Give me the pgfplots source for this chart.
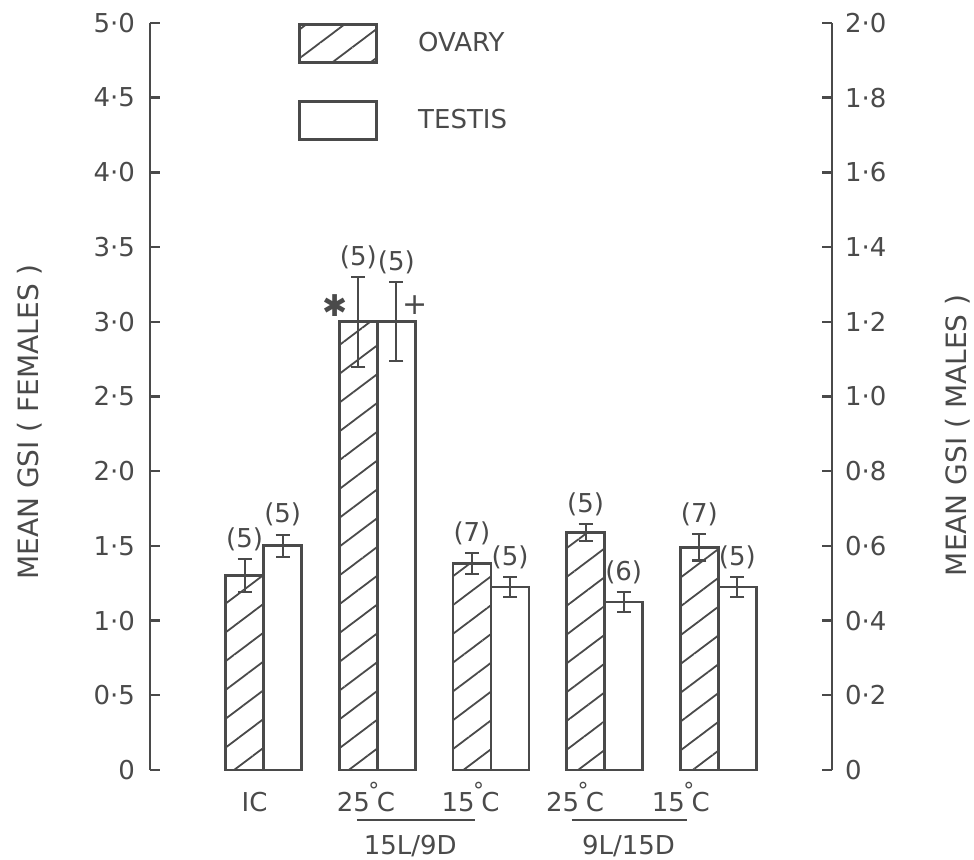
\documentclass[border=0pt]{standalone}
\usepackage{pgfplots}
\pgfplotsset{compat=1.18}
\usepackage{pgfplotstable}
\usepackage{fontspec}
\setmainfont{DejaVu Sans}
\usetikzlibrary{patterns.meta}

\definecolor{ink}{HTML}{4A4A4A}

% Mean GSI of females (ovary), left scale: x, mean, s.e., sample size
\pgfplotstableread{
x y e n
1 1.30 0.110 5
2 3.00 0.300 5
3 1.38 0.070 7
4 1.59 0.055 5
5 1.49 0.088 7
}\ovary

% Mean GSI of males (testis), right scale
\pgfplotstableread{
x y e n
1 0.60 0.030 5
2 1.20 0.106 5
3 0.49 0.027 5
4 0.45 0.027 6
5 0.49 0.026 5
}\testis

\newcommand{\dC}[1]{#1\kern-0.06em\raisebox{0.5em}{\fontsize{11}{11}\selectfont °}\kern-0.1em C}

\pgfplotsset{
  gsi/.style={
    scale only axis, width=341pt, height=373.5pt,
    xmin=0, xmax=6, ymin=0,
    clip=false, at={(0,0)}, anchor=south west,
    tick align=inside, major tick length=5pt,
    every tick/.style={ink, line width=1.2pt},
    axis line style={ink, line width=1.3pt, -},
    tick label style={font=\fontsize{13}{15}\selectfont, text=ink},
  },
  legbox/.style={legend image code/.code={\draw[##1] (0pt,-9.5pt) rectangle (38.5pt,9.5pt);}},
  bars/.style={ybar, bar width=0.335, bar shift=0pt, draw=ink, line width=1.4pt, legbox},
  hatch/.style={pattern={Lines[angle=37, distance=11.5pt, line width=0.9pt]}, pattern color=ink},
  errs/.style={
    error bars/y dir=both, error bars/y explicit,
    error bars/error bar style={ink, line width=1.1pt},
    error bars/error mark options={rotate=90, ink, mark size=3.5pt, line width=1.1pt},
  },
  counts/.style={
    forget plot, only marks, mark=text, text mark={},
    nodes near coords={(\pgfplotspointmeta)}, point meta=explicit symbolic,
    every node near coord/.style={anchor=south, inner sep=0pt, yshift=4pt,
      font=\fontsize{13}{15}\selectfont, text=ink},
  },
}

\begin{document}
\begin{tikzpicture}
% Females: left axis, hatched bars (left half of each pair)
\begin{axis}[gsi, ymax=5,
  axis y line*=left, axis x line*=bottom,
  x axis line style={draw=none},
  ytick={0,0.5,...,5},
  yticklabels={0,0·5,1·0,1·5,2·0,2·5,3·0,3·5,4·0,4·5,5·0},
  xtick={0.92,1.90,2.82,3.74,4.67},
  xticklabels={IC,\dC{25},\dC{15},\dC{25},\dC{15}},
  x tick style={draw=none},
  xticklabel style={anchor=base, yshift=-21pt},
  yticklabel style={xshift=-4pt},
  ylabel={MEAN GSI ( FEMALES )},
  every axis y label/.style={at={(axis description cs:-0.176,0.466)}, rotate=90, anchor=center,
    font=\fontsize{14}{16}\selectfont, text=ink},
]
\addplot[bars, hatch, errs]
  table[x expr=\thisrow{x}-0.1675, y=y, y error=e] {\ovary};
\addplot[counts] table[x expr=\thisrow{x}-0.1675, y expr=\thisrow{y}+\thisrow{e}, meta=n] {\ovary};

% significance marks
\node[text=ink, font=\fontsize{15}{15}\selectfont] at (axis cs:1.627,3.11) {✱};
\node[text=ink, font=\fontsize{15}{15}\selectfont] at (axis cs:2.33,3.11) {+};

% photoperiod groups
\draw[ink, line width=1.1pt] (axis cs:1.82,-0.335) -- (axis cs:2.86,-0.335);
\draw[ink, line width=1.1pt] (axis cs:3.71,-0.335) -- (axis cs:4.72,-0.335);
\node[text=ink, font=\fontsize{13}{15}\selectfont] at (axis cs:2.29,-0.51) {15L/9D};
\node[text=ink, font=\fontsize{13}{15}\selectfont] at (axis cs:4.21,-0.51) {9L/15D};
\end{axis}

% Males: right axis, open bars (right half of each pair)
\begin{axis}[gsi, ymax=2,
  axis y line*=right, axis x line=none,
  ytick={0,0.2,...,2},
  yticklabels={0,0·2,0·4,0·6,0·8,1·0,1·2,1·4,1·6,1·8,2·0},
  yticklabel style={xshift=3pt},
  ylabel={MEAN GSI ( MALES )},
  every axis y label/.style={at={(axis description cs:1.185,0.448)}, rotate=90, anchor=center,
    font=\fontsize{14}{16}\selectfont, text=ink},
  legend style={at={(axis description cs:0.217,1)}, anchor=north west,
    draw=none, fill=none, inner sep=0pt, row sep=18pt, column sep=20pt,
    font=\fontsize{13}{15}\selectfont, text=ink, nodes={inner sep=0pt}},
  legend cell align=left,
]
\addlegendimage{legbox, draw=ink, line width=1.4pt, hatch}
\addlegendentry{OVARY}
\addplot[bars, fill=white, errs]
  table[x expr=\thisrow{x}+0.1675, y=y, y error=e] {\testis};
\addlegendentry{TESTIS}
\addplot[counts] table[x expr=\thisrow{x}+0.1675, y expr=\thisrow{y}+\thisrow{e}, meta=n] {\testis};
\end{axis}

\pgfresetboundingbox
\path[use as bounding box] (-75pt,-45pt) rectangle (412pt,385pt);
\end{tikzpicture}
\end{document}
